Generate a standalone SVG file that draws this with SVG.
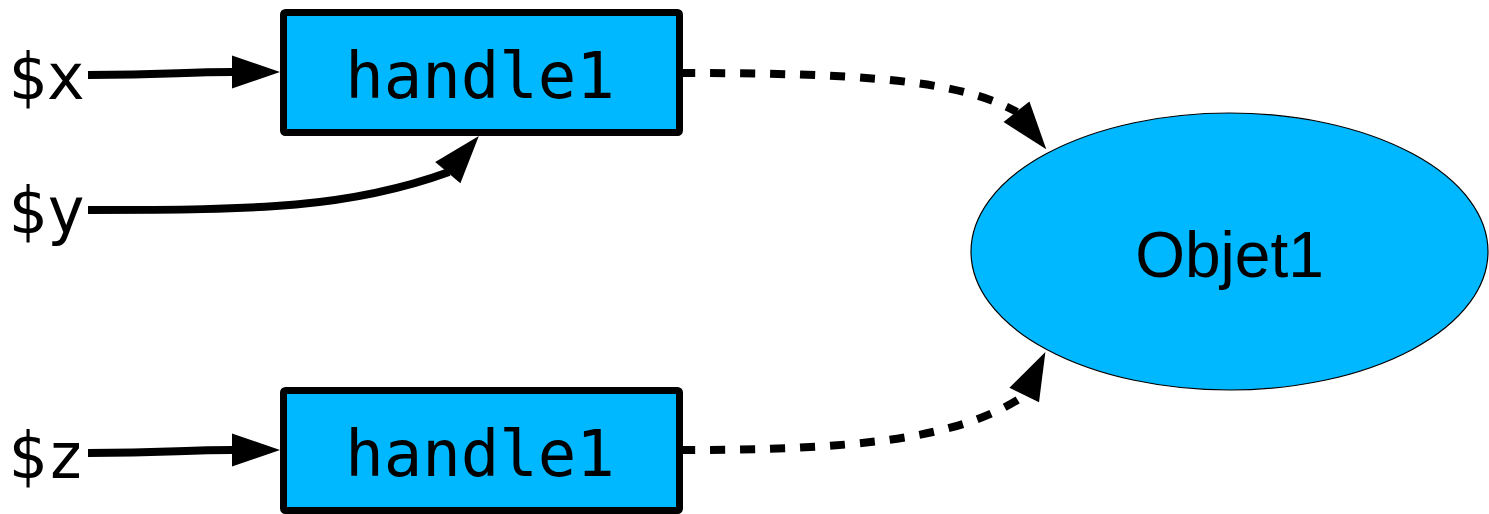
<svg xmlns="http://www.w3.org/2000/svg" xmlns:xlink="http://www.w3.org/1999/xlink" width="1489" height="514" viewBox="0 0 1489 514">
<style>
.box{fill:#00b8ff;stroke:#000;stroke-width:7;stroke-linejoin:round}
.ell{fill:#00b8ff;stroke:#000;stroke-width:1.2}
.mono{font-family:"DejaVu Sans Mono",monospace;font-size:64px;fill:#000}
.sans{font-family:"Liberation Sans",Arial,sans-serif;font-size:64px;fill:#000}
.solid{fill:none;stroke:#000;stroke-width:8}
.dash{fill:none;stroke:#000;stroke-width:8;stroke-dasharray:15 15}
</style>
<defs>
<path id="ah" d="M0,-16.5 L48,0 L0,16.5 z" fill="#000"/>
</defs>
<g id="label-x"><text class="mono" x="8" y="99">$x</text></g>
<g id="label-y"><text class="mono" x="8" y="233">$y</text></g>
<g id="label-z"><text class="mono" x="8" y="478">$z</text></g>
<g id="handle1-top">
<rect class="box" x="283.5" y="12.5" width="396" height="120" rx="2"/>
<text class="mono" x="480" y="97.5" text-anchor="middle">handle1</text>
</g>
<g id="handle1-bottom">
<rect class="box" x="283.5" y="390.5" width="396" height="120" rx="2"/>
<text class="mono" x="480" y="476" text-anchor="middle">handle1</text>
</g>
<g id="objet1">
<ellipse class="ell" cx="1229.5" cy="251.5" rx="258.5" ry="138.5"/>
<text class="sans" x="1229.5" y="277" text-anchor="middle">Objet1</text>
</g>
<g id="connectors">
<path class="solid" d="M88,75 C170,75 180,72 233,72"/>
<use xlink:href="#ah" transform="translate(232,72)"/>
<path class="solid" d="M88,210 C260,210 350,208 449,172"/>
<use xlink:href="#ah" transform="translate(447.8,172.7) rotate(-49.7)"/>
<path class="solid" d="M88,453 C170,453 180,450 233,450"/>
<use xlink:href="#ah" transform="translate(232,450)"/>
<path class="dash" d="M680,73 C860,73 960,80 1017,112"/>
<use xlink:href="#ah" transform="translate(1016.5,111.7) rotate(51.7)"/>
<path class="dash" d="M680,450 C850,450 960,440 1025,395"/>
<use xlink:href="#ah" transform="translate(1024.2,395) rotate(-63.8)"/>
</g>
</svg>
